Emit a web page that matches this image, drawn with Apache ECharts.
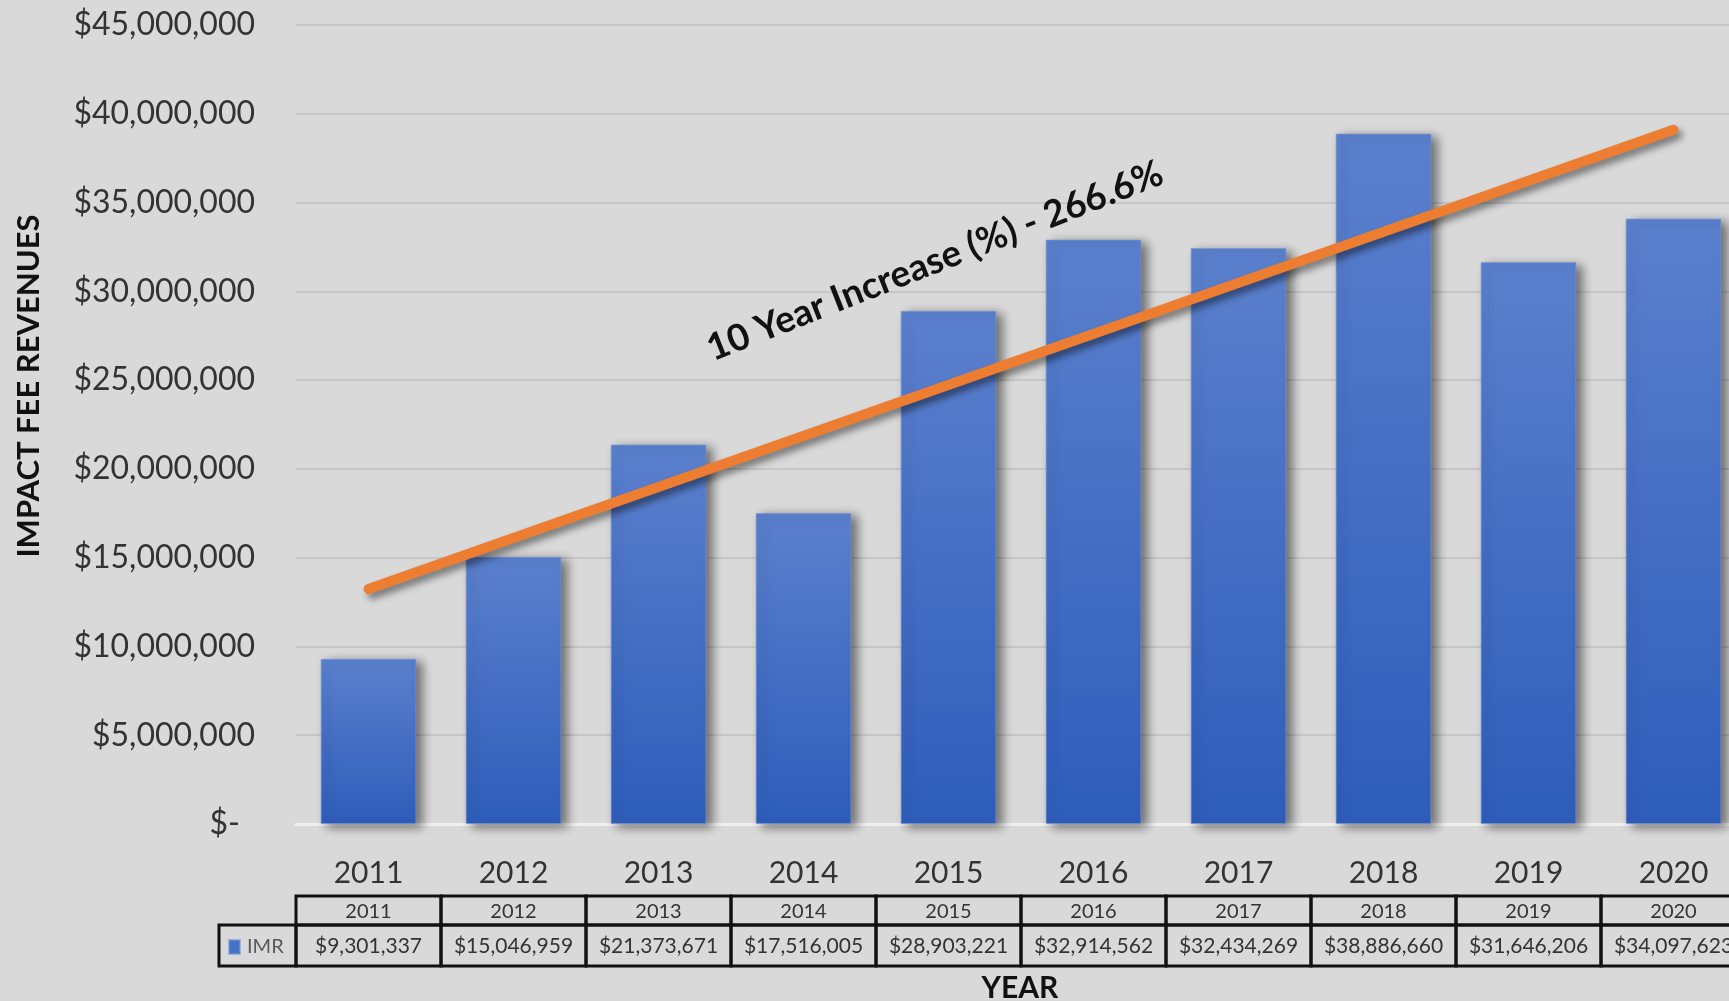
<!DOCTYPE html>
<html>
<head>
<meta charset="utf-8">
<title>Impact Fee Revenues</title>
<script src="https://cdn.jsdelivr.net/npm/echarts@6/dist/echarts.min.js"></script>
<style>
  html, body { margin: 0; padding: 0; background: #D9D9D9; }
  #chart { width: 1729px; height: 1001px; }
</style>
</head>
<body>
<div id="chart"></div>
<script>
// Annual impact fee revenue (IMR), 2011-2020
const years = ['2011', '2012', '2013', '2014', '2015', '2016', '2017', '2018', '2019', '2020'];
const revenue = [9301337, 15046959, 21373671, 17516005, 28903221, 32914562, 32434269, 38886660, 31646206, 34097623];

// Linear trend line end points (2011 and 2020)
const trendEnds = [13240000, 39100000];

// Value-axis tick labels, one per $5M step
const yTickLabels = ['$-', '$5,000,000', '$10,000,000', '$15,000,000', '$20,000,000',
  '$25,000,000', '$30,000,000', '$35,000,000', '$40,000,000', '$45,000,000'];

const seriesName = 'IMR';
const trendLabel = '10 Year Increase (%) - 266.6%';
const yTitle = 'IMPACT FEE REVENUES';
const xTitle = 'YEAR';

const FONT = 'Lato, "Open Sans", "Noto Sans", sans-serif';

function money(v) {
  return '$' + v.toLocaleString('en-US');
}

// trend series: only the two end points, joined across the gap
const trendData = years.map(() => null);
trendData[0] = trendEnds[0];
trendData[years.length - 1] = trendEnds[1];

// data table rows under the category axis
const TABLE_HEAD_TOP = 896;
const TABLE_ROW_TOP = 925;
const TABLE_BOTTOM = 966;

function renderTableCell(params, api) {
  const i = api.value(0);
  const cx = api.coord([i, 0])[0];
  const w = api.size([1, 0])[0];
  const left = cx - w / 2;
  const border = { stroke: '#111', lineWidth: 3, fill: null };
  return {
    type: 'group',
    children: [
      { type: 'rect', shape: { x: left, y: TABLE_HEAD_TOP, width: w, height: TABLE_ROW_TOP - TABLE_HEAD_TOP }, style: border },
      { type: 'rect', shape: { x: left, y: TABLE_ROW_TOP, width: w, height: TABLE_BOTTOM - TABLE_ROW_TOP }, style: border },
      { type: 'text', style: { text: years[i], x: cx, y: (TABLE_HEAD_TOP + TABLE_ROW_TOP) / 2 + 1, fill: '#333', fontSize: 20, fontFamily: FONT, align: 'center', verticalAlign: 'middle' } },
      { type: 'text', style: { text: money(api.value(1)), x: cx, y: (TABLE_ROW_TOP + TABLE_BOTTOM) / 2 + 1, fill: '#333', fontSize: 21, fontFamily: FONT, align: 'center', verticalAlign: 'middle' } }
    ]
  };
}

const chart = echarts.init(document.getElementById('chart'), null, { renderer: 'canvas' });

chart.setOption({
  backgroundColor: '#D9D9D9',
  animation: false,
  textStyle: { fontFamily: FONT },
  grid: { left: 296, top: 25, width: 1450, height: 799, containLabel: false, outerBoundsMode: 'none' },
  legend: {
    data: [seriesName],
    left: 228,
    top: 937,
    padding: 0,
    icon: 'rect',
    itemWidth: 11,
    itemHeight: 14,
    itemGap: 4,
    itemStyle: { color: '#4472C4', shadowBlur: 0, shadowOffsetX: 0, shadowOffsetY: 0 },
    textStyle: { fontSize: 20, color: '#595959', fontFamily: FONT, padding: [0, 0, 0, 2] },
    selectedMode: false
  },
  xAxis: {
    type: 'category',
    data: years,
    axisLine: { show: true, lineStyle: { color: '#EFEFEF', width: 3 } },
    axisTick: { show: false },
    axisLabel: { fontSize: 30, color: '#333', margin: 34, fontFamily: FONT }
  },
  yAxis: {
    type: 'value',
    min: 0,
    max: 45000000,
    interval: 5000000,
    axisLine: { show: false },
    axisTick: { show: false },
    splitLine: { lineStyle: { color: '#C6C6C6', width: 2 } },
    axisLabel: {
      fontSize: 32,
      color: '#333',
      margin: 41,
      fontFamily: FONT,
      formatter: function (v) {
        const label = yTickLabels[Math.round(v / 5000000)];
        return v === 0 ? '{z|' + label + '}' : label;
      },
      rich: { z: { fontSize: 32, color: '#333', fontFamily: FONT, padding: [0, 15, 0, 0] } }
    }
  },
  series: [
    {
      name: seriesName,
      type: 'bar',
      data: revenue,
      barWidth: '66%',
      itemStyle: {
        color: new echarts.graphic.LinearGradient(0, 0, 0, 1, [
          { offset: 0, color: '#5B80CD' },
          { offset: 1, color: '#2E5DBA' }
        ]),
        borderColor: 'rgba(120,150,215,0.6)',
        borderWidth: 1,
        shadowColor: 'rgba(0,0,0,0.5)',
        shadowBlur: 10,
        shadowOffsetX: 6,
        shadowOffsetY: 3
      },
      z: 2
    },
    {
      name: 'trend',
      type: 'line',
      data: trendData,
      connectNulls: true,
      symbol: 'none',
      silent: true,
      lineStyle: {
        color: '#ED7D31',
        width: 10,
        cap: 'round',
        shadowColor: 'rgba(0,0,0,0.45)',
        shadowBlur: 7,
        shadowOffsetX: 4,
        shadowOffsetY: 5
      },
      z: 5
    },
    {
      name: 'table',
      type: 'custom',
      data: revenue.map((v, i) => [i, v]),
      encode: { x: 0, y: 1 },
      renderItem: renderTableCell,
      clip: false,
      silent: true,
      z: 6
    }
  ],
  graphic: [
    // legend key cell of the data table
    {
      type: 'rect',
      shape: { x: 219, y: TABLE_ROW_TOP, width: 77, height: TABLE_BOTTOM - TABLE_ROW_TOP },
      style: { stroke: '#111', lineWidth: 3, fill: null },
      z: 10
    },
    {
      type: 'text',
      x: 29, y: 386,
      rotation: Math.PI / 2,
      style: { text: yTitle, fill: '#111', fontSize: 31, fontWeight: 'bold', fontFamily: FONT, align: 'center', verticalAlign: 'middle' }
    },
    {
      type: 'text',
      x: 1020, y: 988,
      style: { text: xTitle, fill: '#111', fontSize: 30, fontWeight: 'bold', fontFamily: FONT, align: 'center', verticalAlign: 'middle' }
    },
    {
      type: 'text',
      x: 935, y: 261,
      rotation: 21.5 * Math.PI / 180,
      style: { text: trendLabel, fill: '#111', fontSize: 37, fontWeight: 'bold', fontFamily: FONT, align: 'center', verticalAlign: 'middle' },
      z: 20
    }
  ]
});
</script>
</body>
</html>
